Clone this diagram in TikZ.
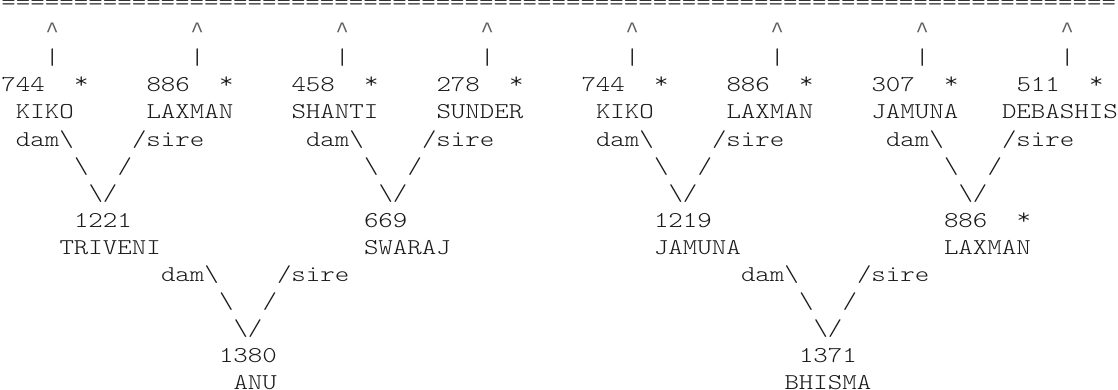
\documentclass[tikz,border=0pt]{standalone}
\usepackage{graphicx}
\usepackage{fontspec}
\newfontfamily\asciifont[FakeStretch=1.22]{Latin Modern Mono Light}
\newfontfamily\caretfont{Liberation Mono}
\definecolor{ink}{gray}{0.1}
\tikzset{tok/.style={anchor=base west, inner sep=0pt, outer sep=0pt, text=ink,
  font=\asciifont\fontsize{22.6pt}{27pt}\selectfont},
  ctok/.style={tok, anchor=base}}
% token: name, column, row, text
\newcommand\tk[4]{\node[tok] (#1) at ({1.5+14.5*(#2)},{389-11-27*(#3)}) {#4};}
% token centred in its column cell
\newcommand\tkc[4]{\node[ctok] (#1) at ({1.5+14.5*(#2+0.5)},{389-11-27*(#3)}) {#4};}
\newcommand\caret{{\caretfont\fontsize{22pt}{27pt}\selectfont\color{ink!70}\textasciicircum}}
\newcommand\upstar{\raisebox{3pt}{*}}
\begin{document}
\begin{tikzpicture}[x=1pt,y=1pt]
\fill[white] (0,0) rectangle (1118,389);
\useasboundingbox (0,0) rectangle (1118,389);
% row 0: rule
\node[tok] (rule) at (1.5,379) {=============================================================================};
% rows 1-3: arrows upward and stars
\foreach \k in {0,...,7}{
  \tkc{up\k}{3+10*\k}{1}{\caret}
  \tk{bar\k}{3+10*\k}{2}{|}
  \tkc{star\k}{5+10*\k}{3}{\upstar}
}
% row 3: numbers of grandparents
\tk{n744a}{0}{3}{744}
\tk{n886a}{10}{3}{886}
\tk{n458}{20}{3}{458}
\tk{n278}{30}{3}{278}
\tk{n744b}{40}{3}{744}
\tk{n886b}{50}{3}{886}
\tk{n307}{60}{3}{307}
\tk{n511}{70}{3}{511}
% row 4: names of grandparents
\tk{kikoa}{1}{4}{KIKO}
\tk{laxmana}{10}{4}{LAXMAN}
\tk{shanti}{20}{4}{SHANTI}
\tk{sunder}{30}{4}{SUNDER}
\tk{kikob}{41}{4}{KIKO}
\tk{laxmanb}{50}{4}{LAXMAN}
\tk{jamunaa}{60}{4}{JAMUNA}
\tk{debashis}{69}{4}{DEBASHIS}
% rows 5-7: first level V connectors
\foreach \c in {0,20,40,60}{
  \tk{dam\c}{1+\c}{5}{dam\textbackslash}
  \tk{sire\c}{9+\c}{5}{/sire}
  \tk{bsl\c}{5+\c}{6}{\textbackslash}
  \tk{sl\c}{8+\c}{6}{/}
  \tk{vee\c}{6+\c}{7}{\textbackslash/}
}
% rows 8-9: parents
\tk{n1221}{5}{8}{1221}
\tk{n669}{25}{8}{669}
\tk{n1219}{45}{8}{1219}
\tk{n886c}{65}{8}{886}
\tkc{starc}{70}{8}{\upstar}
\tk{triveni}{4}{9}{TRIVENI}
\tk{swaraj}{25}{9}{SWARAJ}
\tk{jamunab}{45}{9}{JAMUNA}
\tk{laxmanc}{65}{9}{LAXMAN}
% rows 10-12: second level V connectors
\foreach \c in {0,40}{
  \tk{damb\c}{11+\c}{10}{dam\textbackslash}
  \tk{sireb\c}{19+\c}{10}{/sire}
  \tk{bslb\c}{15+\c}{11}{\textbackslash}
  \tk{slb\c}{18+\c}{11}{/}
  \tk{veeb\c}{16+\c}{12}{\textbackslash/}
}
% rows 13-14: offspring
\tk{n1380}{15}{13}{1380}
\tk{n1371}{55}{13}{1371}
\tk{anu}{16}{14}{ANU}
\tk{bhisma}{54}{14}{BHISMA}
\end{tikzpicture}
\end{document}
